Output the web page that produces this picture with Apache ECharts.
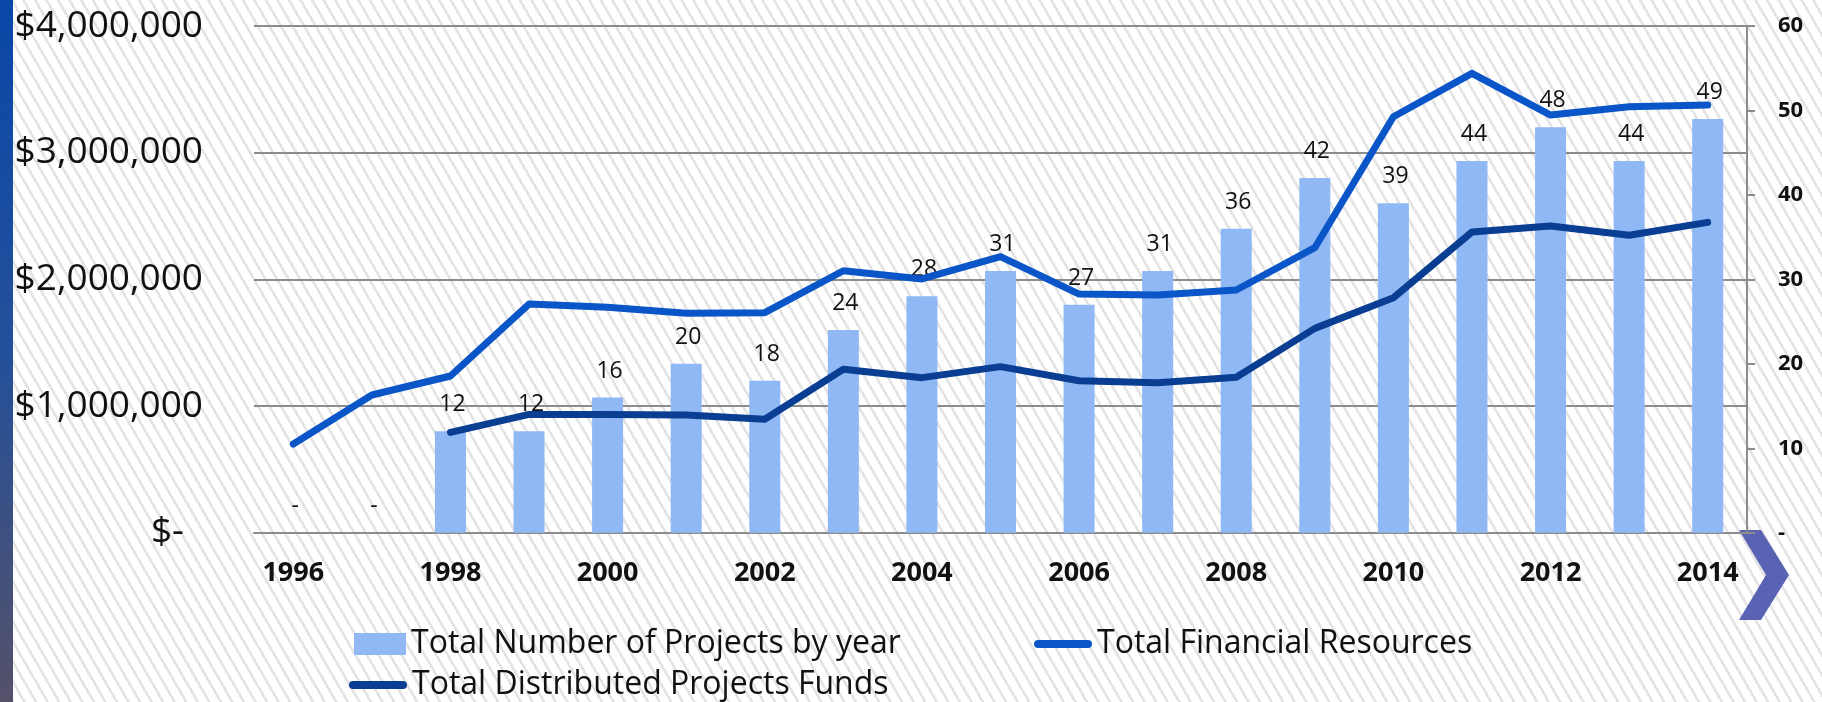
<!DOCTYPE html>
<html>
<head>
<meta charset="utf-8">
<script src="https://cdn.jsdelivr.net/npm/echarts@6/dist/echarts.min.js"></script>
<style>
html,body{margin:0;padding:0;}
body{width:1822px;height:702px;overflow:hidden;
  background:#fff repeating-linear-gradient(60deg,#e4e4e4 0px,#e4e4e4 2.6px,#ffffff 2.6px,#ffffff 10px);}
#chart{width:1822px;height:702px;}
</style>
</head>
<body>
<div id="chart"></div>
<script>
// ---- data ----
const years = ['1996','1997','1998','1999','2000','2001','2002','2003','2004','2005','2006','2007','2008','2009','2010','2011','2012','2013','2014'];
const projectCounts = [0,0,12,12,16,20,18,24,28,31,27,31,36,42,39,44,48,44,49];
const financialResources = [700000,1087000,1237000,1805000,1779000,1732000,1737000,2068000,2003000,2179000,1884000,1876000,1916000,2250000,3284000,3626000,3297000,3363000,3376000];
const distributedFunds = [null,null,792000,934000,934000,929000,895000,1290000,1224000,1311000,1200000,1184000,1227000,1613000,1855000,2374000,2421000,2348000,2450000];
const seriesNames = ['Total Number of Projects by year','Total Financial Resources','Total Distributed Projects Funds'];
const moneyAxis = {min:0, max:4000000, interval:1000000};
const countAxis = {min:0, max:60, interval:10};

const FONT = "'Open Sans', sans-serif";
const GRID_COLOR = '#8c8c8c';
const BAR_COLOR = '#8fb8f5';
const FIN_COLOR = '#0a56c8';
const DIST_COLOR = '#093e93';
const lineIcon = 'path://M4,0 L54,0 A4,4 0 0 1 54,8 L4,8 A4,4 0 0 1 4,0 Z';

const chart = echarts.init(document.getElementById('chart'), null, {renderer:'canvas'});
const legendText = {fontFamily:FONT, fontSize:32, color:'#111', lineHeight:32};
chart.setOption({
  backgroundColor:'transparent',
  animation:false,
  grid:{left:254, right:75, top:26, height:506.7, containLabel:false},
  legend:[
    {data:[{name:seriesNames[0], icon:'rect'}], left:354, top:628, padding:0, itemWidth:52, itemHeight:22, textStyle:legendText, selectedMode:false},
    {data:[{name:seriesNames[1], icon:lineIcon}], left:1034, top:628, padding:0, itemWidth:58, itemHeight:8, textStyle:legendText, selectedMode:false},
    {data:[{name:seriesNames[2], icon:lineIcon}], left:349, top:669, padding:0, itemWidth:58, itemHeight:8, textStyle:legendText, selectedMode:false}
  ],
  xAxis:{
    type:'category', data:years, boundaryGap:true,
    axisLine:{show:true, lineStyle:{color:GRID_COLOR, width:2}},
    axisTick:{show:false},
    axisLabel:{interval:1, margin:27, fontFamily:FONT, fontWeight:'bold', fontSize:27, color:'#111'}
  },
  yAxis:[
    {type:'value', min:moneyAxis.min, max:moneyAxis.max, interval:moneyAxis.interval,
     axisLine:{show:false}, axisTick:{show:false},
     splitLine:{show:true, lineStyle:{color:GRID_COLOR, width:2}},
     axisLabel:{margin:51, fontFamily:FONT, fontSize:37, color:'#111',
       formatter:v => v === 0 ? '{z|$-}' : '$' + v.toLocaleString('en-US'),
       rich:{z:{fontFamily:FONT, fontSize:37, color:'#111', padding:[0,19,0,0]}}}
    },
    {type:'value', min:countAxis.min, max:countAxis.max, interval:countAxis.interval, position:'right',
     axisLine:{show:true, lineStyle:{color:GRID_COLOR, width:2}},
     axisTick:{show:true, length:8, lineStyle:{color:GRID_COLOR, width:2}},
     splitLine:{show:false},
     axisLabel:{margin:31, fontFamily:FONT, fontWeight:'bold', fontSize:22, color:'#111',
       formatter:v => v === 0 ? '-' : String(v)}
    }
  ],
  series:[
    {name:seriesNames[0], type:'bar', yAxisIndex:1, data:projectCounts, barWidth:31,
     itemStyle:{color:BAR_COLOR},
     label:{show:true, position:'top', distance:15, offset:[2,0], fontFamily:FONT, fontSize:23, color:'#111',
       formatter:p => p.value === 0 ? '-' : String(p.value)}},
    {name:seriesNames[1], type:'line', yAxisIndex:0, data:financialResources, symbol:'none',
     color:FIN_COLOR, itemStyle:{color:FIN_COLOR},
     lineStyle:{color:FIN_COLOR, width:7, cap:'round', join:'round'}},
    {name:seriesNames[2], type:'line', yAxisIndex:0, data:distributedFunds, symbol:'none',
     color:DIST_COLOR, itemStyle:{color:DIST_COLOR},
     lineStyle:{color:DIST_COLOR, width:7, cap:'round', join:'round'}}
  ],
  graphic:[
    {type:'rect', left:0, top:0, shape:{width:13, height:702}, silent:true,
     style:{fill:new echarts.graphic.LinearGradient(0,0,0,1,[
       {offset:0, color:'#0a47a8'},{offset:0.5, color:'#23509a'},{offset:1, color:'#55516a'}])}},
    {type:'polygon', silent:true,
     shape:{points:[[1739,530],[1761,530],[1789,575],[1761,620],[1739,620],[1766,575]]},
     style:{fill:'#5a62b4'}}
  ]
});
</script>
</body>
</html>
